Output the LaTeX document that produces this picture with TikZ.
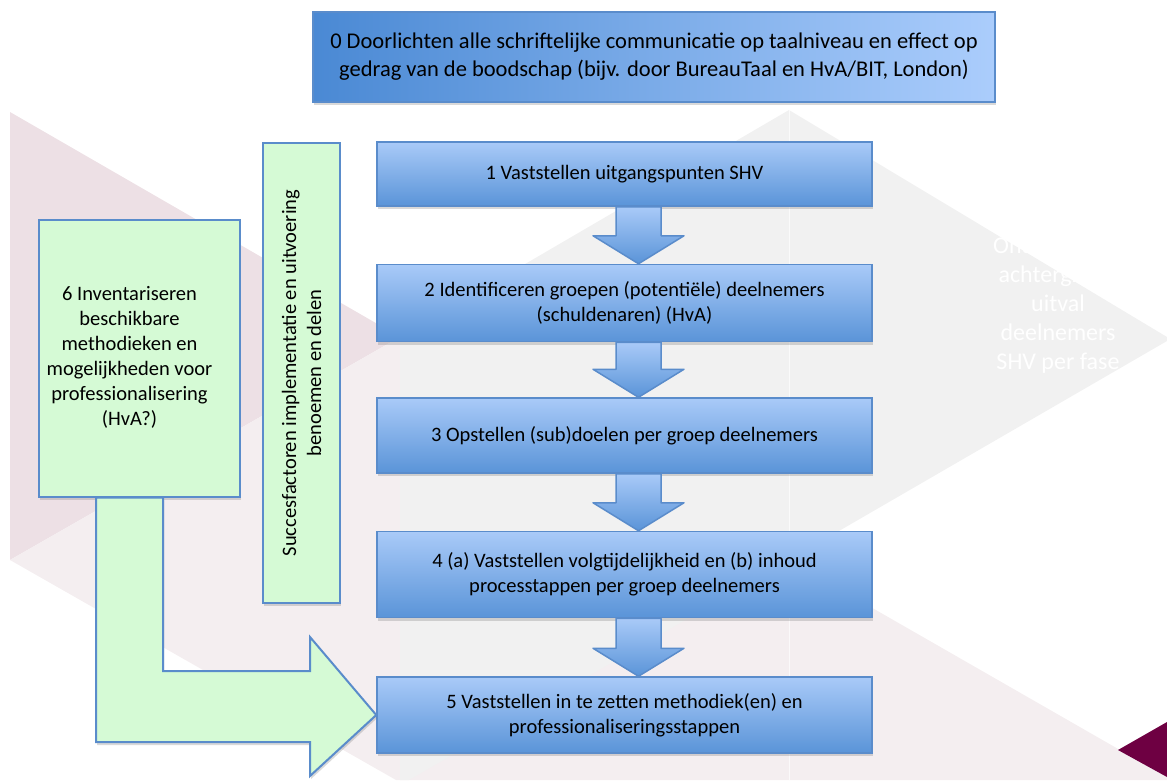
\documentclass[tikz,border=0pt]{standalone}
\usepackage{fontspec}
\setmainfont{Carlito}
\usepackage{tikz}
\usetikzlibrary{shapes, arrows.meta, positioning, shadows}
\definecolor{pinkbg}{HTML}{EDE0E5}
\definecolor{lightpink}{HTML}{F4EEF0}
\definecolor{greybg}{HTML}{F1F1F1}
\definecolor{maroon}{HTML}{6E0042}
\definecolor{bluetop}{HTML}{A9CAF8}
\definecolor{bluebot}{HTML}{5A94D8}
\definecolor{blueleft}{HTML}{4A89D4}
\definecolor{blueright}{HTML}{ABCDFC}
\definecolor{blueline}{HTML}{5A8CCB}
\definecolor{greenfill}{HTML}{D5FAD5}
\tikzstyle{every node}=[font=\fontsize{20.5}{25}\selectfont]
\tikzstyle{shade}=[drop shadow={opacity=0.3, shadow xshift=1pt, shadow yshift=-3pt}]
\tikzstyle{stepbox}=[draw=blueline, line width=1.5pt, top color=bluetop, bottom color=bluebot, rectangle, minimum width=495pt, align=center, shade]
\tikzstyle{greenbox}=[draw=blueline, line width=2pt, fill=greenfill, rectangle, align=center, shade]
\tikzstyle{barrow}=[draw=blueline, line width=1.5pt, top color=bluetop, bottom color=bluebot, line join=round]
\newcommand{\downarrowbox}[2]{%
  \draw[barrow] ([xshift=-8.5pt]#1.south) -- ([xshift=-8.5pt,yshift=28pt]#2.north)
    -- ([xshift=-31.5pt,yshift=28pt]#2.north) -- ([xshift=14pt]#2.north)
    -- ([xshift=59.5pt,yshift=28pt]#2.north) -- ([xshift=36.5pt,yshift=28pt]#2.north)
    -- ([xshift=36.5pt]#1.south) -- cycle;}

\begin{document}
\begin{tikzpicture}[x=1pt, y=-1pt, node distance=57pt]
      \useasboundingbox (0,0) rectangle (1167,780);
      \fill[pinkbg] (10,112) -- (400,337) -- (10,560) -- cycle;
      \fill[lightpink] (10,560) -- (400,337) -- (1167,777) -- (1167,780) -- (396,780) -- cycle;
      \fill[greybg] (400,337) -- (789,110) -- (1167,337) -- (1167,341) -- (409,780) -- (400,780) -- cycle;
      \draw[white, line width=0.8pt, opacity=0.7] (789,110) -- (789,780);
      \fill[maroon] (1118,750) -- (1167,722) -- (1167,777) -- cycle;
      \node[white, align=center, font=\fontsize{24}{29}\selectfont] (note) at (1058,305)
        {Onderzoeken\\achtergrond\\uitval\\deelnemers\\SHV per fase};

      \node[stepbox, minimum width=682pt, minimum height=90pt, left color=blueleft, right color=blueright,
        font=\fontsize{22.5}{28}\selectfont] (s0) at (654,57)
        {0 Doorlichten alle schriftelijke communicatie op taalniveau en effect op\\gedrag van de boodschap (bijv. door BureauTaal en HvA/BIT, London)};
      \node[stepbox, minimum height=64pt] (s1) at (624.5,174) {1 Vaststellen uitgangspunten SHV};
      \node[stepbox, minimum height=77pt, below=of s1] (s2) {2 Identificeren groepen (potentiële) deelnemers\\(schuldenaren) (HvA)};
      \node[stepbox, minimum height=75pt, below=55pt of s2] (s3) {3 Opstellen (sub)doelen per groep deelnemers};
      \node[stepbox, minimum height=86pt, below=of s3] (s4) {4 (a) Vaststellen volgtijdelijkheid en (b) inhoud\\processtappen per groep deelnemers};
      \node[stepbox, minimum height=76pt, below=58pt of s4] (s5) {5 Vaststellen in te zetten methodiek(en) en\\professionaliseringsstappen};
      \downarrowbox{s1}{s2}
      \downarrowbox{s2}{s3}
      \downarrowbox{s3}{s4}
      \downarrowbox{s4}{s5}

      \node[greenbox, rotate=90, minimum width=460pt, minimum height=77pt] (succ) at (301.5,373)
        {Succesfactoren implementatie en uitvoering\\benoemen en delen};
      \node[greenbox, minimum width=201pt, minimum height=277pt] (inv) at (139.5,358)
        {\begin{tabular}{@{}c@{\hspace{20pt}}}6 Inventariseren\\beschikbare\\methodieken en\\mogelijkheden voor\\professionalisering\\(HvA?)\end{tabular}};
      \draw[greenbox] ([xshift=-43.5pt]inv.south) |- (310,742) -- (310,776) -- (s5.west)
        -- (310,637) -- (310,671) -| ([xshift=23.5pt]inv.south) -- cycle;
    \end{tikzpicture}
\end{document}
